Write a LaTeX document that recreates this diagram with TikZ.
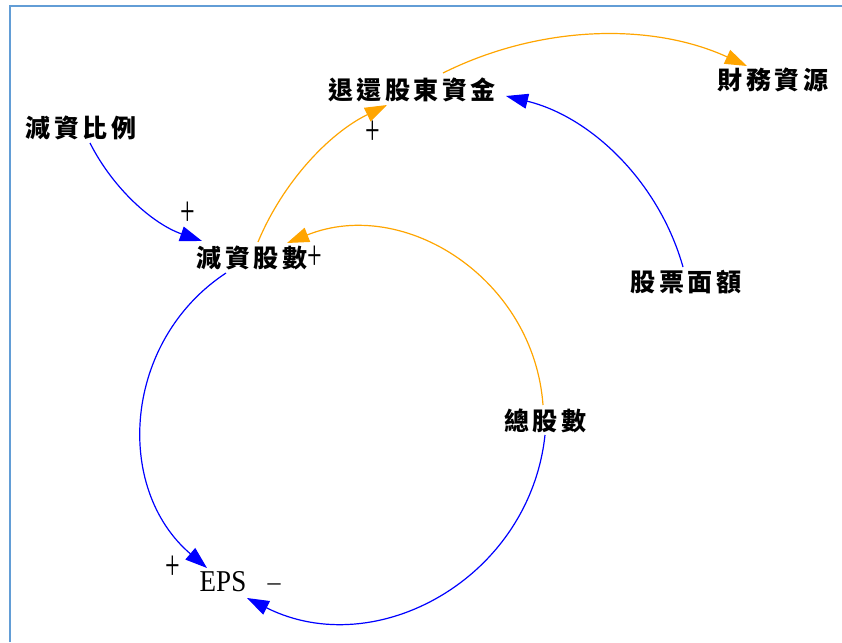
\documentclass[tikz,border=0pt]{standalone}
\usepackage{fontspec}
\usepackage{graphicx}
\setmainfont{Liberation Serif}
\newfontfamily\cjk{Noto Sans CJK TC}
\usetikzlibrary{arrows.meta,calc}
\definecolor{arrorange}{RGB}{255,165,0}
\definecolor{arrblue}{RGB}{0,0,255}
\definecolor{framecol}{RGB}{98,157,214}
\newlength\cjkgap \setlength\cjkgap{3.5pt}
\def\spc#1{\spci#1\relax}
\def\spci#1{#1\spcj}
\def\spcj#1{\ifx\relax#1\else\kern\cjkgap#1\expandafter\spcj\fi}
\tikzset{
  lbl/.style={font=\cjk\bfseries\fontsize{25}{28}\selectfont, inner sep=0pt},
  sgn/.style={font=\fontsize{26}{28}\selectfont, inner sep=0pt},
  link/.style={line width=1.2pt, -{Triangle[length=22pt,width=15pt]}},
  bl/.style={link, draw=arrblue},
  org/.style={link, draw=arrorange},
}
\begin{document}
\begin{tikzpicture}[x=1pt,y=-1pt]
\useasboundingbox (0,0) rectangle (842,642);
\draw[framecol, line width=2pt] (10,642) -- (10,6.5) -- (842,6.5);

\node[lbl] (rr)  at (81,128)  {\spc{減資比例}};
\node[lbl] (ret) at (412,90)  {\spc{退還股東資金}};
\node[lbl] (fin) at (773,80)  {\spc{財務資源}};
\node[lbl] (red) at (252,258) {\spc{減資股數}};
\node[lbl] (par) at (686,282) {\spc{股票面額}};
\node[lbl] (tot) at (545,421) {\spc{總股數}};
\node[font=\fontsize{27}{30}\selectfont, inner sep=0pt] (eps) at (223,582) {\scalebox{1}[1.12]{EPS}};

\node[sgn] (s1) at (188,214) {\scalebox{1}[1.6]{+}};
\node[sgn] (s2) at (373,133) {\scalebox{1}[1.6]{+}};
\node[sgn] (s3) at (315,258) {\scalebox{1}[1.6]{+}};
\node[sgn] (s4) at (173,568) {\scalebox{1}[1.6]{+}};
\node[font=\fontsize{26}{28}\selectfont, inner sep=0pt] (s5) at (274,587) {–};

\draw[bl]  ($(rr)+(9,15)$)   .. controls (113.2,189.0) and (153.3,224.1) .. ($(red)+(-50,-17)$);
\draw[org] ($(red)+(6,-16)$) .. controls (282.9,182.2) and (328.8,133.5) .. ($(ret)+(-25,15)$);
\draw[org] ($(ret)+(31,-17)$) .. controls (538.2,25.5) and (650.2,21.7) .. ($(fin)+(-26,-14)$);
\draw[bl]  ($(par)+(-3,-15)$) .. controls (659.1,182.3) and (591.5,116.9) .. ($(ret)+(94,6)$);
\draw[org] ($(tot)+(-2,-16)$) .. controls (533.8,278.8) and (404.5,196.1) .. ($(red)+(35,-15)$);
\draw[bl]  ($(red)+(-26,15)$) .. controls (123.2,340.7) and (113.4,488.1) .. ($(eps)+(-16,-14)$);
\draw[bl]  ($(tot)+(0,14)$)   .. controls (529.5,578.4) and (375.9,662.7) .. ($(eps)+(24,16)$);
\end{tikzpicture}
\end{document}
